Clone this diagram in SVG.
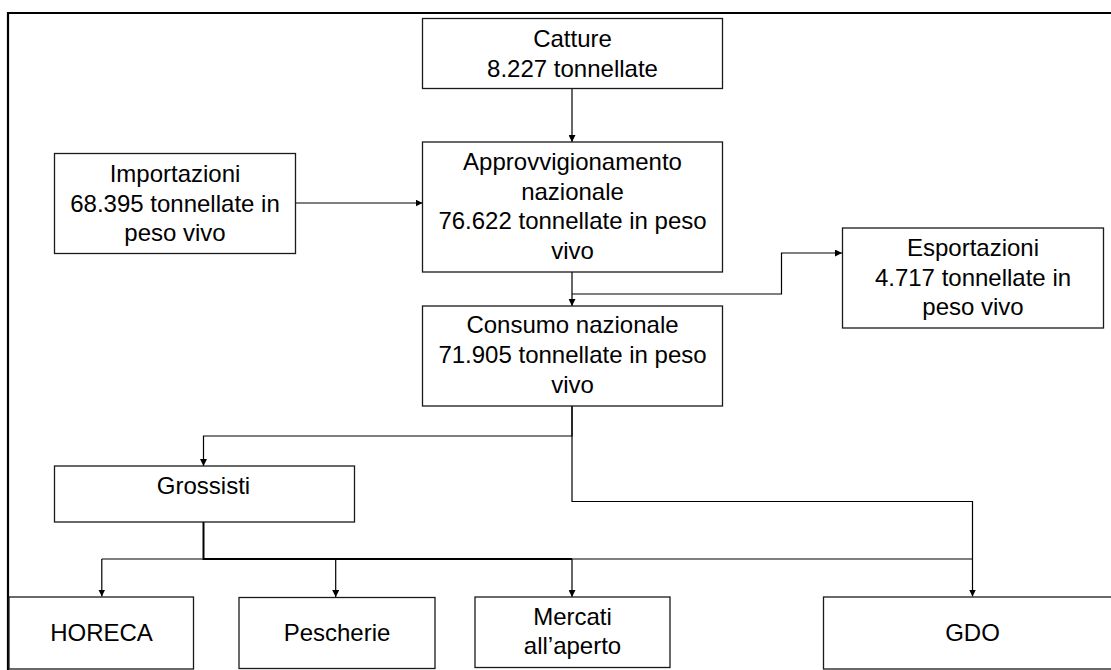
<svg xmlns="http://www.w3.org/2000/svg" width="1111" height="670" viewBox="0 0 1111 670">
<style>
.box{fill:#fff;stroke:#1a1a1a;stroke-width:1.3}
.t{font-family:"Liberation Sans",Arial,sans-serif;font-size:24px;fill:#000;text-anchor:middle}
.c{fill:none;stroke:#000;stroke-width:1.2}
.ct{fill:none;stroke:#000;stroke-width:2}
</style>
<defs>
<marker id="ah" viewBox="0 0 10 10" refX="10" refY="5" markerWidth="7" markerHeight="7" markerUnits="userSpaceOnUse" orient="auto">
<path d="M0,0 L10,5 L0,10 z" fill="#000"/>
</marker>
</defs>
<rect width="1111" height="670" fill="#fff"/>
<g id="frame">
<path d="M8,670 V13 H1111" fill="none" stroke="#000" stroke-width="2.2"/>
</g>
<g id="connectors">
<path class="c" d="M572,88 V142" marker-end="url(#ah)"/>
<path class="c" d="M295.5,203 H422.5" marker-end="url(#ah)"/>
<path class="c" d="M572,272 V306" marker-end="url(#ah)"/>
<path class="c" d="M572,294 H781.5 V253 H842" marker-end="url(#ah)"/>
<path class="c" d="M572,406 V436 H203.5 V466" marker-end="url(#ah)"/>
<path class="c" d="M572,406 V501.5 H972.5 V596.5" marker-end="url(#ah)"/>
<path class="ct" d="M203.5,522 V559 H572"/>
<path class="c" d="M101.8,559 H972.5"/>
<path class="c" d="M101.8,559 V596.5" marker-end="url(#ah)"/>
<path class="c" d="M335.7,559 V597" marker-end="url(#ah)"/>
<path class="c" d="M572,559 V597" marker-end="url(#ah)"/>
</g>
<g id="catture">
<rect class="box" x="422.5" y="18.5" width="300" height="70"/>
<text class="t" x="572.5" y="47">Catture</text>
<text class="t" x="572.5" y="77">8.227 tonnellate</text>
</g>
<g id="importazioni">
<rect class="box" x="54.5" y="153.5" width="241" height="100"/>
<text class="t" x="175" y="182">Importazioni</text>
<text class="t" x="175" y="212">68.395 tonnellate in</text>
<text class="t" x="175" y="241">peso vivo</text>
</g>
<g id="approvvigionamento">
<rect class="box" x="422.5" y="142" width="300" height="130"/>
<text class="t" x="572.5" y="170">Approvvigionamento</text>
<text class="t" x="572.5" y="199.5">nazionale</text>
<text class="t" x="572.5" y="229">76.622 tonnellate in peso</text>
<text class="t" x="572.5" y="259">vivo</text>
</g>
<g id="esportazioni">
<rect class="box" x="842.5" y="228" width="261" height="100"/>
<text class="t" x="973" y="256">Esportazioni</text>
<text class="t" x="973" y="286">4.717 tonnellate in</text>
<text class="t" x="973" y="315">peso vivo</text>
</g>
<g id="consumo">
<rect class="box" x="422.5" y="306" width="300" height="100"/>
<text class="t" x="572.5" y="333">Consumo nazionale</text>
<text class="t" x="572.5" y="363">71.905 tonnellate in peso</text>
<text class="t" x="572.5" y="393">vivo</text>
</g>
<g id="grossisti">
<rect class="box" x="54.5" y="466" width="300" height="56"/>
<text class="t" x="203.5" y="494">Grossisti</text>
</g>
<g id="horeca">
<rect class="box" x="9" y="597" width="184.5" height="72"/>
<text class="t" x="101.5" y="641">HORECA</text>
</g>
<g id="pescherie">
<rect class="box" x="239" y="597.5" width="196" height="71"/>
<text class="t" x="337" y="641">Pescherie</text>
</g>
<g id="mercati">
<rect class="box" x="475" y="597" width="195" height="70.5"/>
<text class="t" x="572.5" y="625">Mercati</text>
<text class="t" x="572.5" y="654">all’aperto</text>
</g>
<g id="gdo">
<rect class="box" x="823.5" y="597" width="300" height="72"/>
<text class="t" x="972.5" y="641">GDO</text>
</g>
</svg>
